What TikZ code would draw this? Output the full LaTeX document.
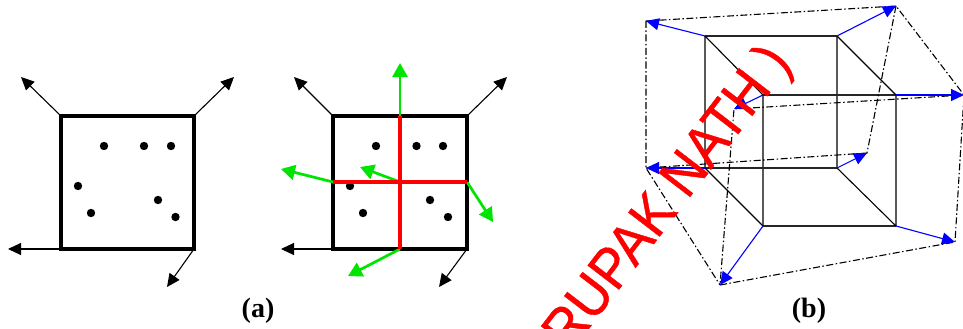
\documentclass[tikz,border=0pt]{standalone}
\usepackage{fontspec}
\setmainfont{Liberation Serif}
\newfontfamily\wmfont[RawFeature={embolden=0.8}]{Liberation Sans}
\usetikzlibrary{arrows.meta}
\tikzset{
  x=1pt,y=-1pt,
  boxline/.style={draw=black,line width=3.4pt,line join=miter},
  blackarrow/.style={draw=black,line width=1.1pt,-{Triangle[length=13pt,width=12pt]}},
  greenarrow/.style={draw=green!90!black,color=green!90!black,line width=2.7pt,-{Triangle[length=14pt,width=15pt]}},
  bluearrow/.style={draw=blue,color=blue,line width=1.1pt,-{Triangle[length=13pt,width=12pt]}},
  splitline/.style={draw=red,line width=3.4pt},
  dotmark/.style={circle,fill=black,inner sep=0pt,minimum size=8.4pt},
  frontedge/.style={draw=black!65,line width=1.5pt},
  flatedge/.style={draw=black!85,line width=1.3pt},
  diagedge/.style={draw=black,line width=1.1pt},
  outeredge/.style={draw=black,line width=1.1pt,dash pattern=on 7pt off 2.5pt on 1.5pt off 2.5pt},
  sublabel/.style={font=\fontsize{28}{28}\selectfont\bfseries,inner sep=0pt},
  watermark/.style={font=\wmfont\fontsize{53}{53}\selectfont,text=red,rotate=52.5,yscale=1.08,inner sep=0pt}
}
\begin{document}
\begin{tikzpicture}
\useasboundingbox (0,0) rectangle (963,329);
\clip (0,0) rectangle (963,329);
% left square
\coordinate (ltl) at (61,116); \coordinate (ltr) at (194,116);
\coordinate (lbl) at (61,249); \coordinate (lbr) at (194,249);
\coordinate (la1) at (21,77); \coordinate (la2) at (234,77);
\coordinate (la3) at (8,249); \coordinate (la4) at (167,287);
\draw[blackarrow] (ltl) -- (la1);
\draw[blackarrow] (ltr) -- (la2);
\draw[blackarrow] (lbl) -- (la3);
\draw[blackarrow] (lbr) -- (la4);
\draw[boxline] (ltl) -- (ltr) -- (lbr) -- (lbl) -- cycle;
\foreach \n/\x/\y in {1/104/146,2/144/146,3/171/146,4/78/186,5/158/200,6/91/213,7/175.5/217}
  \node[dotmark] (ld\n) at (\x,\y) {};
% middle square
\coordinate (mtl) at (333,116); \coordinate (mtr) at (467,116);
\coordinate (mbl) at (333,249); \coordinate (mbr) at (467,249);
\coordinate (mt) at (400,116); \coordinate (mb) at (400,249);
\coordinate (ml) at (333,182); \coordinate (mr) at (467,182);
\coordinate (mc) at (400,182);
\coordinate (ma1) at (294,77); \coordinate (ma2) at (507,77);
\coordinate (ma3) at (281,249); \coordinate (ma4) at (439,287);
\coordinate (ga) at (400,63); \coordinate (gb) at (281,169);
\coordinate (gc) at (360,167); \coordinate (gd) at (493,222);
\coordinate (ge) at (348,276);
\draw[blackarrow] (mtl) -- (ma1);
\draw[blackarrow] (mtr) -- (ma2);
\draw[blackarrow] (mbl) -- (ma3);
\draw[blackarrow] (mbr) -- (ma4);
\draw[boxline] (mtl) -- (mtr) -- (mbr) -- (mbl) -- cycle;
\foreach \n/\x/\y in {1/376/146,2/416.5/146,3/443/146,4/350/186,5/430/200,6/363/213,7/448/217}
  \node[dotmark] (md\n) at (\x,\y) {};
\draw[greenarrow] (mt) -- (ga);
\draw[greenarrow] (ml) -- (gb);
\draw[greenarrow] (mc) -- (gc);
\draw[greenarrow] (mr) -- (gd);
\draw[greenarrow] (mb) -- (ge);
\draw[splitline] (mt) -- (mb);
\draw[splitline] (ml) -- (mr);
% cube
\coordinate (f1) at (705,36); \coordinate (f2) at (837,36);
\coordinate (f3) at (837,168); \coordinate (f4) at (705,168);
\coordinate (b1) at (763,95); \coordinate (b2) at (896,95);
\coordinate (b3) at (896,226); \coordinate (b4) at (763,226);
\coordinate (oA) at (646,21); \coordinate (oB) at (896,6);
\coordinate (oC) at (964,95); \coordinate (oD) at (734,109);
\coordinate (oE) at (646,168); \coordinate (oF) at (867,153);
\coordinate (oG) at (720,285); \coordinate (oH) at (955,242);
\draw[frontedge] (f1) -- (f4); \draw[frontedge] (f2) -- (f3);
\draw[frontedge] (b1) -- (b4); \draw[frontedge] (b2) -- (b3);
\draw[flatedge] (f1) -- (f2); \draw[flatedge] (f4) -- (f3);
\draw[flatedge] (b1) -- (b2); \draw[flatedge] (b4) -- (b3);
\draw[diagedge] (f1) -- (b1); \draw[diagedge] (f2) -- (b2);
\draw[diagedge] (f4) -- (b4); \draw[diagedge] (f3) -- (b3);
\draw[outeredge] (oA) -- (oB) -- (oC) -- (oD) -- (oG) -- (oH) -- (oC);
\draw[outeredge] (oA) -- (oE) -- (oG);
\draw[outeredge] (oB) -- (oF) -- (oE);
\draw[bluearrow] (f1) -- (oA);
\draw[bluearrow] (f2) -- (oB);
\draw[bluearrow] (b2) -- (oC);
\draw[bluearrow] (b1) -- (oD);
\draw[bluearrow] (f4) -- (oE);
\draw[bluearrow] (f3) -- (oF);
\draw[bluearrow] (b4) -- (oG);
\draw[bluearrow] (b3) -- (oH);
% labels
\node[sublabel] (capa) at (258,311) {(a)};
\node[sublabel] (capb) at (809,311) {(b)};
\node[watermark,anchor=east] (wm) at (781,54) {RUPAK NATH )};
\end{tikzpicture}
\end{document}
